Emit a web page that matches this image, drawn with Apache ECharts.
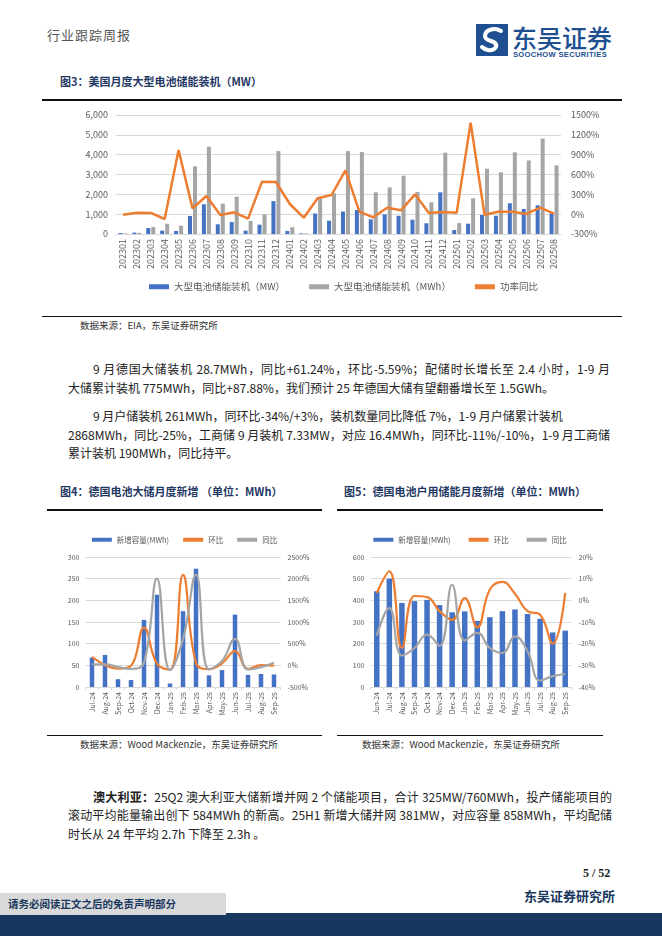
<!DOCTYPE html>
<html><head><meta charset="utf-8">
<script src="https://cdn.jsdelivr.net/npm/echarts@6/dist/echarts.min.js"></script>
<style>
html,body{margin:0;padding:0}
body{width:662px;height:936px;position:relative;background:#fff;font-family:"Noto Sans CJK SC","Noto Sans",sans-serif;overflow:hidden}
.t{position:absolute;white-space:nowrap;line-height:1}
.hr{position:absolute;height:1.5px;background:#111}
.p{position:absolute;font-size:12px;color:#222;line-height:1;white-space:nowrap}
.j{text-align:justify;text-align-last:justify}
.ft{position:absolute;font-size:11px;font-weight:bold;color:#1f3864;white-space:nowrap;line-height:1}
.src{position:absolute;font-size:9.5px;color:#333;white-space:nowrap;line-height:1}
.ch{position:absolute}
</style></head><body>

<!-- header -->
<div class="t" style="left:47px;top:28px;font-size:13px;color:#555;letter-spacing:1px">行业跟踪周报</div>
<svg style="position:absolute;left:476px;top:24px" width="32" height="32" viewBox="0 0 32 32">
  <rect x="0" y="0" width="32" height="32" fill="#1d4f91"/>
  <path d="M25 7 C18 3 9 6 9 12 C9 17 16 16 19 19 C22 22 19 27 12 26 C9 25.5 7 24 6 23" stroke="#fff" stroke-width="4" fill="none" stroke-linecap="round"/>
</svg>
<div class="t" style="left:512px;top:25px;font-size:25px;color:#1d4f91;font-weight:500">东吴证券</div>
<div class="t" style="left:513px;top:51px;font-size:7.6px;color:#1d4f91;font-weight:bold;font-family:'Liberation Sans',sans-serif;letter-spacing:0.3px">SOOCHOW SECURITIES</div>

<!-- figure 3 -->
<div class="ft" style="left:60px;top:76px">图3：美国月度大型电池储能装机（MW）</div>
<div class="hr" style="left:42px;top:99px;width:580px"></div>
<div id="c3" class="ch" style="left:42px;top:100px;width:580px;height:215px"></div>
<div class="hr" style="left:42px;top:316px;width:580px;height:1px"></div>
<div class="src" style="left:80px;top:321px">数据来源：EIA，东吴证券研究所</div>

<!-- paragraphs -->
<div class="p j" style="left:93px;top:363px;width:517px">9 月德国大储装机 28.7MWh，同比+61.24%，环比-5.59%；配储时长增长至 2.4 小时，1-9 月</div>
<div class="p" style="left:68px;top:382px">大储累计装机 775MWh，同比+87.88%，我们预计 25 年德国大储有望翻番增长至 1.5GWh。</div>
<div class="p" style="left:93px;top:410px">9 月户储装机 261MWh，同环比-34%/+3%，装机数量同比降低 7%，1-9 月户储累计装机</div>
<div class="p j" style="left:68px;top:429px;width:542px">2868MWh，同比-25%，工商储 9 月装机 7.33MW，对应 16.4MWh，同环比-11%/-10%，1-9 月工商储</div>
<div class="p" style="left:68px;top:447px">累计装机 190MWh，同比持平。</div>

<!-- figure 4 / 5 titles -->
<div class="ft" style="left:60px;top:486px">图4：德国电池大储月度新增 （单位：MWh）</div>
<div class="hr" style="left:47px;top:509px;width:275px"></div>
<div class="ft" style="left:344px;top:486px">图5：德国电池户用储能月度新增（单位：MWh）</div>
<div class="hr" style="left:337px;top:509px;width:266px"></div>

<div id="c4" class="ch" style="left:47px;top:510px;width:275px;height:224px"></div>
<div id="c5" class="ch" style="left:337px;top:510px;width:266px;height:224px"></div>

<div class="hr" style="left:47px;top:735px;width:275px;height:1px"></div>
<div class="hr" style="left:337px;top:735px;width:266px;height:1px"></div>
<div class="src" style="left:80px;top:740px">数据来源：Wood Mackenzie，东吴证券研究所</div>
<div class="src" style="left:362px;top:740px">数据来源：Wood Mackenzie，东吴证券研究所</div>

<!-- Australia paragraph -->
<div class="p j" style="left:93px;top:791px;width:519px"><b>澳大利亚：</b>25Q2 澳大利亚大储新增并网 2 个储能项目，合计 325MW/760MWh，投产储能项目的</div>
<div class="p j" style="left:68px;top:809px;width:544px">滚动平均能量输出创下 584MWh 的新高。25H1 新增大储并网 381MW，对应容量 858MWh，平均配储</div>
<div class="p" style="left:68px;top:828px">时长从 24 年平均 2.7h 下降至 2.3h 。</div>

<!-- footer -->
<div class="t" style="left:583px;top:867px;font-size:12px;font-weight:bold;color:#222;font-family:'Liberation Serif',serif">5 / 52</div>
<div style="position:absolute;left:0;top:913px;width:662px;height:23px;background:#17375e"></div>
<div style="position:absolute;left:0;top:893px;width:226px;height:22px;background:#d9d9d9"></div>
<div class="t" style="left:8px;top:899px;font-size:10.5px;font-weight:bold;color:#17375e">请务必阅读正文之后的免责声明部分</div>
<div class="t" style="left:524px;top:889px;font-size:13px;font-weight:bold;color:#17375e">东吴证券研究所</div>

<script>
// ---------- Figure 3 data ----------
const months3 = ['202301','202302','202303','202304','202305','202306','202307','202308','202309','202310','202311','202312',
  '202401','202402','202403','202404','202405','202406','202407','202408','202409','202410','202411','202412',
  '202501','202502','202503','202504','202505','202506','202507','202508'];
const mw3  = [50,70,300,170,150,910,1500,490,600,170,470,1660,150,30,1030,670,1130,1210,740,990,920,720,540,2100,200,520,960,920,1550,1260,1450,1040];
const mwh3 = [30,60,350,520,420,3410,4400,1530,1880,660,990,4180,340,30,1800,2050,4180,4130,2100,2350,2940,2120,1600,4100,550,1800,3290,3110,4120,3710,4810,3460];
const yoy3 = [-10,23,18,-73,970,88,275,-13,28,-68,492,487,154,-53,240,290,663,38,-48,98,58,300,18,33,23,1384,-8,38,38,3,98,8];
const names3 = ['大型电池储能装机（MW）','大型电池储能装机（MWh）','功率同比'];

// ---------- Figure 4 data ----------
const months4 = ['Jul-24','Aug-24','Sep-24','Oct-24','Nov-24','Dec-24','Jan-25','Feb-25','Mar-25','Apr-25','May-25','Jun-25','Jul-25','Aug-25','Sep-25'];
const cap4 = [68,74,18,16,155,213,8,175,273,27,39,167,28,30,29];
const mom4 = [195,9,-76,-11,867,37,-100,2087,56,-90,44,328,-83,7,-6];
const yoy4 = [23,23,-40,-80,62,2000,-110,600,2095,-94,100,610,-94,-40,61];

// ---------- Figure 5 data ----------
const months5 = ['Jun-24','Jul-24','Aug-24','Sep-24','Oct-24','Nov-24','Dec-24','Jan-25','Feb-25','Mar-25','Apr-25','May-25','Jun-25','Jul-25','Aug-25','Sep-25'];
const cap5 = [442,500,388,396,402,378,345,349,305,322,350,358,337,315,252,260];
const mom5 = [3.4,13.4,-22,2,1.5,-5,-9,1,-12.5,5,8.5,3,-5,-6.6,-20,3.4];
const yoy5 = [-16.3,-3.5,-25.5,-22,-15.8,-21,7.2,-18.6,-15,-22,-24.3,-16.6,-23.5,-37,-35,-34];
const names45 = ['新增容量(MWh)','环比','同比'];

const BLUE='#4472c4', GRAY='#a5a5a5', ORANGE='#ed7d31', LBL='#595959', GRID='#d9d9d9';
const FONT='"Noto Sans CJK SC","Noto Sans",sans-serif';
const pct = v => v + '%';

// Figure 3
const c3 = echarts.init(document.getElementById('c3'));
c3.setOption({
  animation:false,
  textStyle:{fontFamily:FONT},
  legend:{top:177,left:102,itemWidth:20,itemHeight:5,itemGap:24,
    textStyle:{fontSize:9.5,color:LBL},
    data:names3.map(n=>({name:n,icon:'rect'}))},
  grid:{left:74,right:61,top:15,bottom:81},
  xAxis:{type:'category',data:months3,
    axisLine:{lineStyle:{color:GRID}},axisTick:{show:false},
    axisLabel:{rotate:90,interval:0,fontSize:9,color:LBL,margin:5}},
  yAxis:[
    {type:'value',min:0,max:6000,interval:1000,
      axisLabel:{fontSize:9,color:LBL,margin:8,formatter:v=>v.toLocaleString('en-US')},
      axisLine:{show:false},axisTick:{show:false},splitLine:{lineStyle:{color:GRID}}},
    {type:'value',min:-300,max:1500,interval:300,
      axisLabel:{fontSize:9,color:LBL,margin:10,formatter:pct},
      axisLine:{show:false},axisTick:{show:false},splitLine:{show:false}}
  ],
  series:[
    {name:names3[0],type:'bar',data:mw3,barWidth:4,barGap:'25%',itemStyle:{color:BLUE}},
    {name:names3[1],type:'bar',data:mwh3,barWidth:4,itemStyle:{color:GRAY}},
    {name:names3[2],type:'line',yAxisIndex:1,data:yoy3,symbol:'none',lineStyle:{color:ORANGE,width:2.5},itemStyle:{color:ORANGE}}
  ]
});

function smallOpt(cats, cap, mom, yoy, grid, y0, y1, bw, gap){
  return {
    animation:false,
    textStyle:{fontFamily:FONT},
    legend:{top:21,left:'center',itemWidth:20,itemHeight:4,itemGap:gap,
      textStyle:{fontSize:7.5,color:LBL},
      data:names45.map(n=>({name:n,icon:'rect'}))},
    grid:grid,
    xAxis:{type:'category',data:cats,
      axisLine:{lineStyle:{color:GRID}},axisTick:{show:true,lineStyle:{color:GRID},length:3},
      axisLabel:{rotate:90,interval:0,fontSize:7,color:LBL,margin:5}},
    yAxis:[
      Object.assign({type:'value',axisLabel:{fontSize:7,color:LBL,margin:6},
        axisLine:{show:false},axisTick:{show:false},splitLine:{lineStyle:{color:GRID}}},y0),
      Object.assign({type:'value',axisLabel:{fontSize:7,color:LBL,margin:7,formatter:pct},
        axisLine:{show:false},axisTick:{show:false},splitLine:{show:false}},y1)
    ],
    series:[
      {name:names45[0],type:'bar',data:cap,barWidth:bw,itemStyle:{color:BLUE}},
      {name:names45[1],type:'line',yAxisIndex:1,data:mom,smooth:0.45,symbol:'none',lineStyle:{color:ORANGE,width:2.2},itemStyle:{color:ORANGE}},
      {name:names45[2],type:'line',yAxisIndex:1,data:yoy,smooth:0.45,symbol:'none',lineStyle:{color:GRAY,width:2.2},itemStyle:{color:GRAY}}
    ]
  };
}

const c4 = echarts.init(document.getElementById('c4'));
c4.setOption(smallOpt(months4,cap4,mom4,yoy4,{left:38.5,right:41.5,top:47,bottom:47},
  {min:0,max:300,interval:50},{min:-500,max:2500,interval:500},4.5,14));

const c5 = echarts.init(document.getElementById('c5'));
c5.setOption(smallOpt(months5,cap5,mom5,yoy5,{left:33.5,right:31.5,top:47,bottom:47},
  {min:0,max:600,interval:100},{min:-40,max:20,interval:10},5.5,18));
</script>
</body></html>
